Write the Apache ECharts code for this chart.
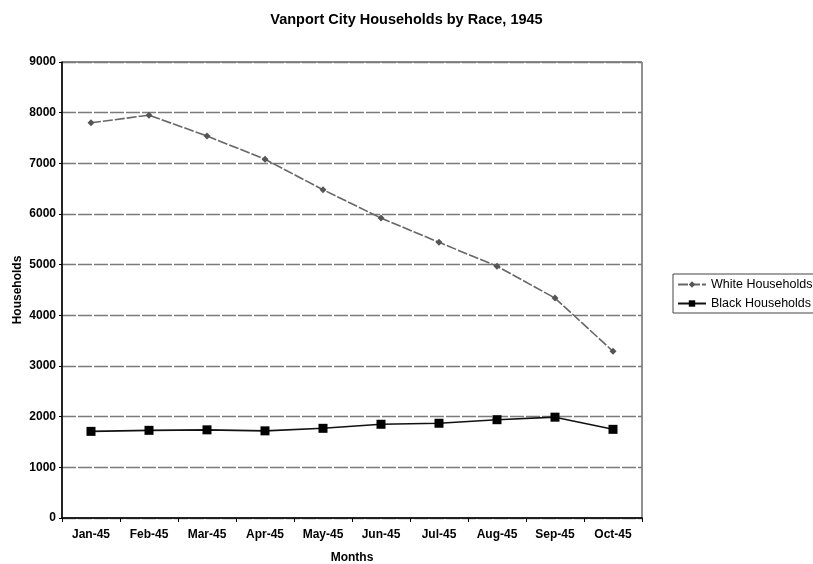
<!DOCTYPE html>
<html>
<head>
<meta charset="utf-8">
<script src="https://cdn.jsdelivr.net/npm/echarts@6/dist/echarts.min.js"></script>
<style>
  html, body { margin: 0; padding: 0; background: #fff; }
  #chart { width: 813px; height: 564px; }
</style>
</head>
<body>
<div id="chart"></div>
<script>
// 月份
const months = ['Jan-45', 'Feb-45', 'Mar-45', 'Apr-45', 'May-45', 'Jun-45', 'Jul-45', 'Aug-45', 'Sep-45', 'Oct-45'];
// households
const whiteHouseholds = [7800, 7950, 7540, 7080, 6480, 5920, 5440, 4970, 4340, 3290];
const blackHouseholds = [1710, 1730, 1740, 1720, 1770, 1850, 1870, 1940, 1990, 1750];
const yTicks = { min: 0, max: 9000, interval: 1000 };

const font = 'Liberation Sans, Arial, sans-serif';
const chart = echarts.init(document.getElementById('chart'));

let options = {
  backgroundColor: '#fff',
  animation: false,
  title: {
    text: 'Vanport City Households by Race, 1945',
    left: 'center',
    top: 7,
    textStyle: { fontFamily: font, fontSize: 14.5, fontWeight: 'bold', color: '#000' }
  },
  grid: {
    show: true,
    left: 62,
    right: 171,
    top: 62,
    bottom: 46,
    outerBoundsMode: 'none',
    containLabel: false,
    borderColor: '#222',
    borderWidth: 1,
    backgroundColor: 'transparent'
  },
  legend: {
    left: 673,
    top: 274,
    orient: 'vertical',
    itemGap: 6,
    itemWidth: 28,
    itemHeight: 8,
    padding: [4, 30, 3, 4],
    borderColor: '#444',
    borderWidth: 1,
    textStyle: { fontFamily: font, fontSize: 12.5, color: '#000' },
    data: ['White Households', 'Black Households']
  },
  xAxis: {
    type: 'category',
    data: months,
    name: 'Months',
    nameLocation: 'middle',
    nameGap: 34,
    nameTextStyle: { fontFamily: font, fontSize: 12, fontWeight: 'bold', color: '#000' },
    axisLine: { show: true, lineStyle: { color: '#000', width: 1.5 } },
    axisTick: { show: true, length: 4, lineStyle: { color: '#000' } },
    axisLabel: { margin: 11, fontFamily: font, fontSize: 12, fontWeight: 'bold', color: '#000' },
    splitLine: { show: false }
  },
  yAxis: {
    type: 'value',
    min: yTicks.min,
    max: yTicks.max,
    interval: yTicks.interval,
    name: 'Households',
    nameLocation: 'middle',
    nameGap: 38,
    nameMoveOverlap: false,
    nameTextStyle: { fontFamily: font, fontSize: 12, fontWeight: 'bold', color: '#000' },
    axisLine: { show: true, lineStyle: { color: '#000', width: 1.5 } },
    axisTick: { show: true, length: 3, lineStyle: { color: '#000' } },
    axisLabel: {
      margin: 6,
      fontFamily: font, fontSize: 12, fontWeight: 'bold', color: '#000',
      formatter: function (v) { return String(v) }
    },
    splitLine: { show: true, lineStyle: { color: '#7a7a7a', width: 1.3, type: [14, 2] } }
  },
  series: [
    {
      name: 'White Households',
      type: 'line',
      data: whiteHouseholds,
      symbol: 'diamond',
      symbolSize: 7,
      lineStyle: { color: '#666', width: 1.6, type: [10, 2] },
      itemStyle: { color: '#555' }
    },
    {
      name: 'Black Households',
      type: 'line',
      data: blackHouseholds,
      symbol: 'rect',
      symbolSize: 9,
      lineStyle: { color: '#111', width: 1.6 },
      itemStyle: { color: '#000' }
    }
  ]
};
chart.setOption(options);
</script>
</body>
</html>
